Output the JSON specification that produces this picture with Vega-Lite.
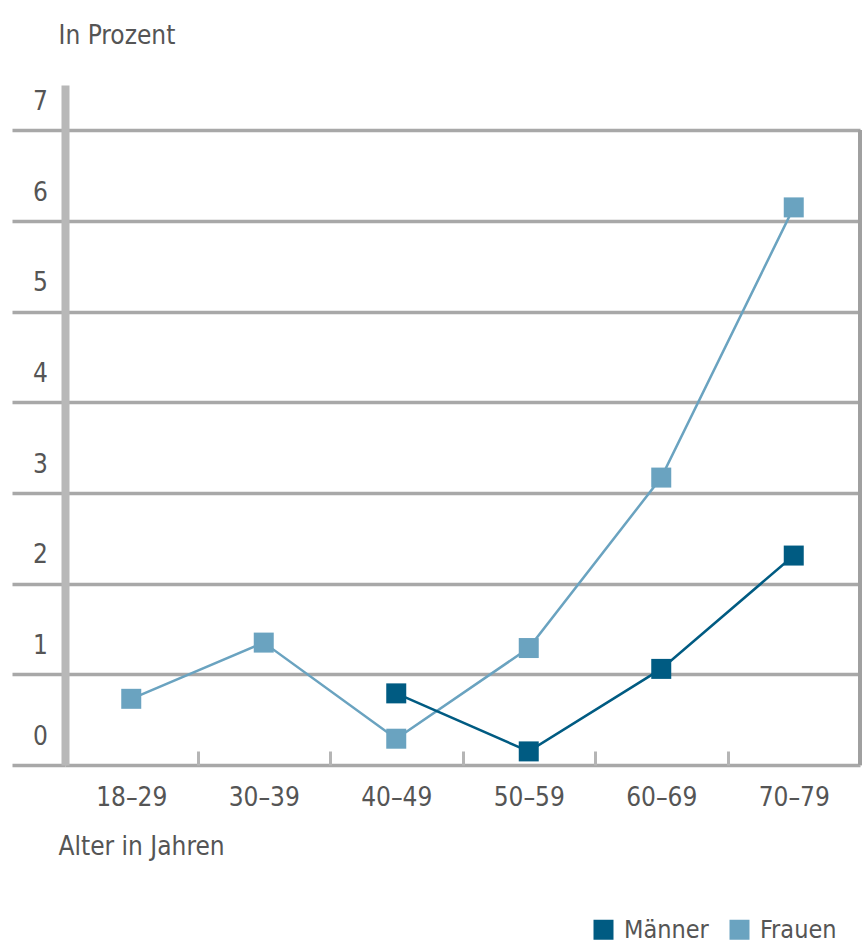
{
  "$schema": "https://vega.github.io/schema/vega-lite/v6.json",
  "width": 795,
  "height": 680,
  "autosize": "none",
  "padding": {"left": 65, "top": 85, "right": 2, "bottom": 183},
  "background": "white",
  "config": {
    "view": {"stroke": null},
    "font": "'DejaVu Sans Condensed', 'Liberation Sans Narrow', 'Open Sans', sans-serif",
    "legend": {"labelFont": "'DejaVu Sans Condensed', 'Liberation Sans Narrow', 'Open Sans', sans-serif"},
    "axis": {
      "labelFont": "'DejaVu Sans Condensed', 'Liberation Sans Narrow', 'Open Sans', sans-serif",
      "titleFont": "'DejaVu Sans Condensed', 'Liberation Sans Narrow', 'Open Sans', sans-serif"
    }
  },
  "data": {
    "values": [
      {"alter": "18–29", "gruppe": "Frauen", "wert": 0.73},
      {"alter": "30–39", "gruppe": "Frauen", "wert": 1.35},
      {"alter": "40–49", "gruppe": "Frauen", "wert": 0.29},
      {"alter": "50–59", "gruppe": "Frauen", "wert": 1.29},
      {"alter": "60–69", "gruppe": "Frauen", "wert": 3.17},
      {"alter": "70–79", "gruppe": "Frauen", "wert": 6.15},
      {"alter": "40–49", "gruppe": "Männer", "wert": 0.79},
      {"alter": "50–59", "gruppe": "Männer", "wert": 0.15},
      {"alter": "60–69", "gruppe": "Männer", "wert": 1.06},
      {"alter": "70–79", "gruppe": "Männer", "wert": 2.31}
    ]
  },
  "encoding": {
    "x": {
      "field": "alter",
      "type": "nominal",
      "sort": ["18–29", "30–39", "40–49", "50–59", "60–69", "70–79"],
      "scale": {"type": "band", "paddingInner": 0, "paddingOuter": 0},
      "axis": {
        "title": "Alter in Jahren",
        "titleFontSize": 26,
        "titleFontWeight": "normal",
        "titleColor": "#555555",
        "titleAnchor": "start",
        "titleAlign": "left",
        "titleBaseline": "alphabetic",
        "titleX": -7,
        "titleY": 89,
        "labelAngle": 0,
        "labelFontSize": 26,
        "labelColor": "#555555",
        "labelPadding": 33,
        "domain": false,
        "ticks": true,
        "tickBand": "extent",
        "tickSize": -14,
        "tickColor": "#b5b5b5",
        "tickWidth": 3,
        "grid": false
      }
    },
    "y": {
      "field": "wert",
      "type": "quantitative",
      "scale": {"domain": [0, 7.5], "nice": false, "zero": true},
      "axis": {
        "title": "In Prozent",
        "titleFontSize": 26,
        "titleFontWeight": "normal",
        "titleColor": "#555555",
        "titleAngle": 0,
        "titleAnchor": "start",
        "titleAlign": "left",
        "titleBaseline": "alphabetic",
        "titleX": -7,
        "titleY": -42,
        "values": [0, 1, 2, 3, 4, 5, 6, 7],
        "format": "d",
        "labelFontSize": 26,
        "labelColor": "#555555",
        "labelAlign": "center",
        "labelBaseline": "middle",
        "labelOffset": -29,
        "labelPadding": -28,
        "grid": true,
        "gridColor": "#a8a8a8",
        "gridWidth": 3.5,
        "ticks": true,
        "tickSize": 53,
        "tickColor": "#a8a8a8",
        "tickWidth": 3.5,
        "domain": true,
        "domainColor": "#b8b8b8",
        "domainWidth": 8
      }
    },
    "color": {
      "field": "gruppe",
      "type": "nominal",
      "scale": {"domain": ["Männer", "Frauen"], "range": ["#005b82", "#6aa3c0"]},
      "legend": {
        "title": null,
        "orient": "none",
        "direction": "horizontal",
        "legendX": 526,
        "legendY": 832,
        "symbolType": "square",
        "symbolSize": 400,
        "symbolStrokeWidth": 0,
        "symbolOpacity": 1,
        "labelFontSize": 25,
        "labelColor": "#555555",
        "columnPadding": 18,
        "labelOffset": 8,
        "labelLimit": 200
      }
    }
  },
  "layer": [
    {
      "mark": {"type": "rule", "color": "#a0a0a0", "strokeWidth": 3.5},
      "encoding": {
        "x": {"datum": "70–79", "bandPosition": 1},
        "y": {"datum": 0},
        "y2": {"datum": 7},
        "color": {"value": "#a0a0a0"}
      }
    },
    {
      "mark": {"type": "line", "strokeWidth": 2.5}
    },
    {
      "mark": {"type": "point", "shape": "square", "filled": true, "size": 400, "opacity": 1}
    }
  ]
}
